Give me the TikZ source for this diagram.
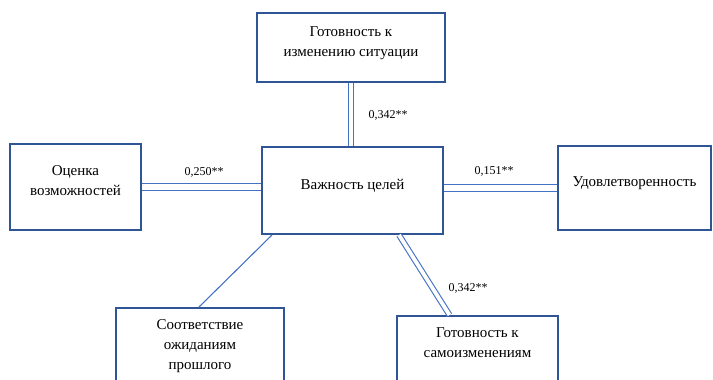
\documentclass[tikz,border=0pt]{standalone}
\usepackage{fontspec}
\setmainfont{Liberation Serif}
\usetikzlibrary{calc}
\definecolor{boxblue}{RGB}{47,85,151}
\definecolor{lineblue}{RGB}{68,114,196}
\tikzset{
  box/.style={draw=boxblue, line width=2pt, rectangle, align=center,
    font=\fontsize{15}{20}\selectfont, text depth=12pt, inner sep=2pt},
  coef/.style={font=\fontsize{12}{14}\selectfont, inner sep=0pt},
  link/.style={draw=lineblue, line width=1.1pt},
  dlink/.style={draw=lineblue, line width=1.1pt, double=white}
}
\begin{document}
\begin{tikzpicture}[x=1pt,y=-1pt]
\useasboundingbox (0,0) rectangle (713,380);
\clip (0,0) rectangle (713,380);
\node[box, minimum width=188pt, minimum height=69pt] (top) at (351,47.5) {Готовность к\\изменению ситуации};
\node[box, minimum width=181pt, minimum height=87pt] (mid) at (352.5,190.5) {Важность целей};
\node[box, minimum width=131pt, minimum height=86pt] (left) at (75.5,187) {Оценка\\возможностей};
\node[box, minimum width=153pt, minimum height=84pt] (right) at (634.5,188) {Удовлетворенность};
\node[box, minimum width=168pt, minimum height=80pt, text depth=6pt] (bl) at (200,348) {Соответствие\\ожиданиям\\прошлого};
\node[box, minimum width=161pt, minimum height=66pt] (br) at (477.5,349) {Готовность к\\самоизменениям};

\draw[dlink, double distance=3.8pt] (top.south) -- (top.south |- mid.north);
\draw[dlink, double distance=6.6pt] (left.east) -- (left.east -| mid.west);
\draw[dlink, double distance=6.6pt] (right.west) -- (right.west -| mid.east);
\draw[dlink, double distance=3.8pt] ($(mid.south west)+(138,0)$) -- ($(br.north west)+(53.5,0)$);
\draw[link] ($(mid.south west)+(11,0)$) -- ($(bl.north west)+(84,0)$);

\node[coef] (c1) at (388,115) {0,342**};
\node[coef] (c2) at (204,172) {0,250**};
\node[coef] (c3) at (494,171) {0,151**};
\node[coef] (c4) at (468,288) {0,342**};
\end{tikzpicture}
\end{document}
